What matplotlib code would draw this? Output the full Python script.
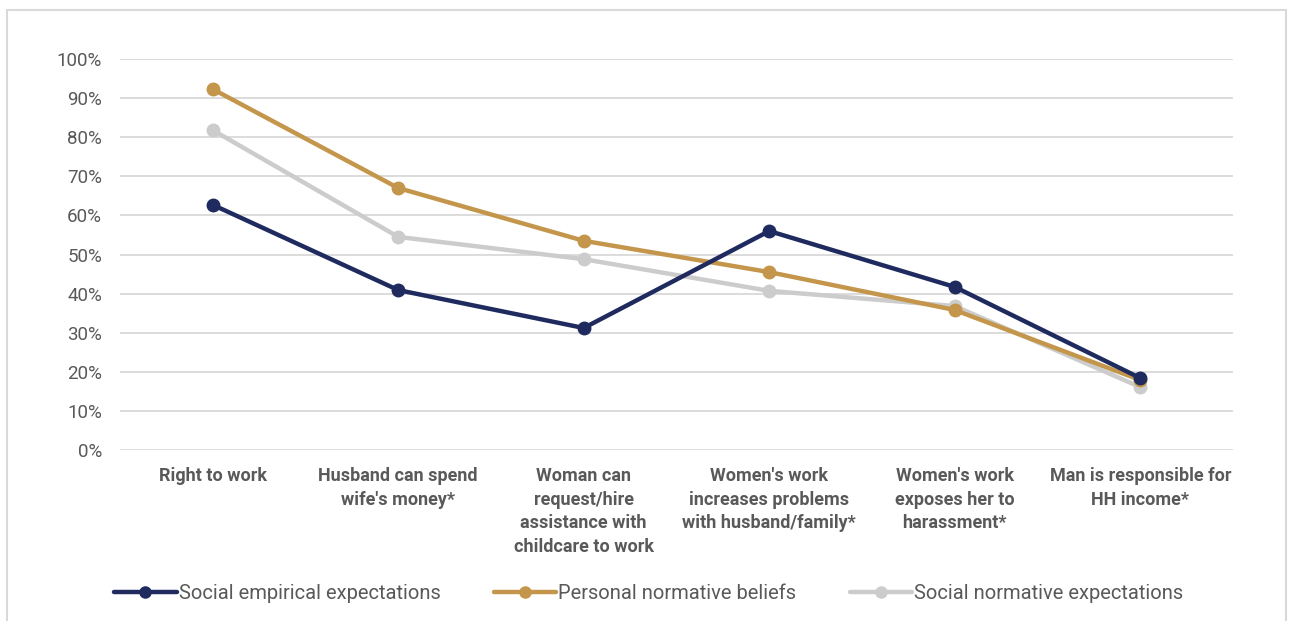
import matplotlib
matplotlib.use("Agg")
import matplotlib.pyplot as plt
from matplotlib.patches import Rectangle

categories = [
    "Right to work",
    "Husband can spend\nwife's money*",
    "Woman can\nrequest/hire\nassistance with\nchildcare to work",
    "Women's work\nincreases problems\nwith husband/family*",
    "Women's work\nexposes her to\nharassment*",
    "Man is responsible for\nHH income*",
]
social_empirical = [62.7, 40.9, 31.2, 56.0, 41.7, 18.4]
personal_normative = [92.3, 67.0, 53.5, 45.5, 35.8, 17.9]
social_normative = [81.8, 54.5, 48.8, 40.7, 36.8, 16.1]
series_names = [
    "Social empirical expectations",
    "Personal normative beliefs",
    "Social normative expectations",
]
yticks = list(range(0, 101, 10))

colors = ["#1f2b5e", "#c4964b", "#cccccc"]
text_color = "#595959"

plt.rcParams["font.family"] = ["Roboto", "DejaVu Sans"]

fig = plt.figure(figsize=(12.89, 6.21), dpi=100)
fig.patches.append(Rectangle((7 / 1289, -0.01), 1279 / 1289, 1 - 10 / 621 + 0.01,
                             transform=fig.transFigure, fill=False,
                             edgecolor="#d9d9d9", linewidth=1.5))

ax = fig.add_axes([120 / 1289, 1 - 450 / 621, 1113 / 1289, 391 / 621])
x = list(range(len(categories)))

# draw order: gray under gold under navy
order = [2, 1, 0]
data = [social_empirical, personal_normative, social_normative]
handles = [None] * 3
for i in order:
    (h,) = ax.plot(x, data[i], color=colors[i], linewidth=3.2, marker="o",
                   markersize=9, solid_capstyle="round", label=series_names[i],
                   zorder=3 + (2 - i))
    handles[i] = h

ax.set_xlim(-0.5, len(categories) - 0.5)
ax.set_ylim(0, 100)
ax.set_yticks(yticks)
ax.set_yticklabels([f"{v}%" for v in yticks], fontsize=13.5, color=text_color)
ax.set_xticks(x)
ax.set_xticklabels(categories, fontsize=13, fontweight="bold", color=text_color,
                   linespacing=1.42, va="top")
ax.tick_params(axis="both", length=0)
ax.tick_params(axis="y", pad=13)
ax.tick_params(axis="x", pad=12)
ax.grid(axis="y", color="#d9d9d9", linewidth=1.3)
ax.set_axisbelow(True)
for s in ax.spines.values():
    s.set_visible(False)

leg = fig.legend(handles=handles, labels=series_names, loc="lower left",
                 bbox_to_anchor=(96 / 1289, 0.0), ncol=3, frameon=False,
                 fontsize=14.5, handlelength=3.1, handletextpad=0.1,
                 columnspacing=2.65, labelcolor=text_color)
for h in leg.legend_handles:
    h.set_markersize(8)

fig.savefig("out.png", dpi=100)
